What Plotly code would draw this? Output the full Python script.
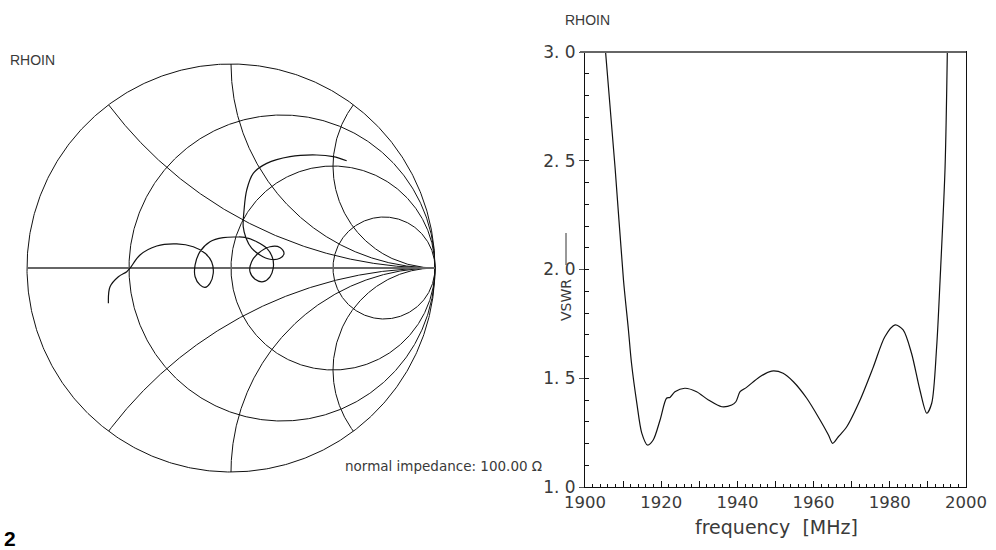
import numpy as np
import plotly.graph_objects as go

W, H = 996, 550

# ---- data ----
# Smith chart trajectory of RHOIN (reflection coefficient, real / imaginary)
rho_re = [-0.601, -0.593, -0.552, -0.511, -0.495, -0.446, -0.364, -0.266, -0.185, -0.127,
          -0.095, -0.087, -0.103, -0.127, -0.152, -0.176, -0.176, -0.152, -0.103, -0.038,
          0.028, 0.069, 0.126, 0.175, 0.204, 0.207, 0.191, 0.158, 0.118, 0.093,
          0.101, 0.134, 0.191, 0.240, 0.260, 0.240, 0.191, 0.142, 0.101, 0.074,
          0.060, 0.064, 0.077, 0.109, 0.175, 0.289, 0.420, 0.501, 0.567]
rho_im = [-0.173, -0.092, -0.043, -0.018, -0.001, 0.064, 0.108, 0.118, 0.104, 0.072,
          0.031, -0.026, -0.075, -0.095, -0.083, -0.043, 0.015, 0.080, 0.129, 0.149,
          0.152, 0.150, 0.129, 0.097, 0.048, -0.001, -0.043, -0.067, -0.055, -0.018,
          0.031, 0.072, 0.104, 0.101, 0.072, 0.048, 0.043, 0.064, 0.097, 0.146,
          0.202, 0.284, 0.382, 0.464, 0.513, 0.546, 0.554, 0.546, 0.526]

# VSWR versus frequency
freq_mhz = [1905.4, 1907.9, 1910.1, 1911.4, 1912.2, 1913.6, 1914.9, 1916.4, 1917.9, 1919.7,
            1921.4, 1922.3, 1923.6, 1926.2, 1929.3, 1932.4, 1935.9, 1938.5, 1939.6, 1940.7,
            1942.4, 1945.9, 1949.0, 1952.0, 1954.7, 1958.2, 1961.7, 1963.9, 1965.0, 1966.5,
            1968.7, 1972.2, 1975.7, 1978.7, 1981.4, 1983.5, 1985.7, 1987.9, 1989.7, 1991.0,
            1992.3, 1993.2, 1994.5, 1995.1]
vswr = [3.0, 2.467, 1.952, 1.722, 1.570, 1.386, 1.248, 1.193, 1.216, 1.308,
        1.408, 1.412, 1.438, 1.454, 1.438, 1.400, 1.369, 1.377, 1.392, 1.438,
        1.458, 1.507, 1.533, 1.523, 1.484, 1.408, 1.308, 1.239, 1.201, 1.231,
        1.277, 1.400, 1.553, 1.691, 1.745, 1.722, 1.615, 1.446, 1.339, 1.385,
        1.645, 1.952, 2.467, 3.0]

# Smith chart grid values
r_circles = [1 / 3, 1.0, 3.0]
x_arcs = [0.5, 1.0, 2.0]

# tick labels
y_tickvals = [1.0, 1.5, 2.0, 2.5, 3.0]
y_ticktext = ["1. 0", "1. 5", "2. 0", "2. 5", "3. 0"]
x_tickvals = [1900, 1910, 1920, 1930, 1940, 1950, 1960, 1970, 1980, 1990, 2000]
x_ticktext = ["1900", "", "1920", "", "1940", "", "1960", "", "1980", "", "2000"]


def px(x):
    return x / W


def py(y):
    return 1 - y / H


TXT = "#3a3a3a"
FONT = "DejaVu Sans"

fig = go.Figure()

# ---- Smith chart grid ----
t = np.linspace(0, 2 * np.pi, 721)
gx, gy = [], []
gx += list(np.cos(t)) + [None]
gy += list(np.sin(t)) + [None]
for r in r_circles:
    c, rad = r / (1 + r), 1 / (1 + r)
    gx += list(c + rad * np.cos(t)) + [None]
    gy += list(rad * np.sin(t)) + [None]
tt = np.linspace(0, 2 * np.pi, 3601)
for xv in x_arcs:
    for s in (1, -1):
        ax = 1 + (1 / xv) * np.cos(tt)
        ay = s / xv + (1 / xv) * np.sin(tt)
        m = ax ** 2 + ay ** 2 <= 1.0000001
        ax, ay = ax[m], ay[m]
        idx = np.argsort(np.arctan2(ay - s / xv, ax - 1) % (2 * np.pi))
        gx += list(ax[idx]) + [None]
        gy += list(ay[idx]) + [None]

fig.add_trace(go.Scatter(x=gx, y=gy, mode="lines", line=dict(color="#111111", width=1),
                         xaxis="x", yaxis="y", hoverinfo="skip", showlegend=False))
fig.add_trace(go.Scatter(x=[-1, 1], y=[0, 0], mode="lines", line=dict(color="#666666", width=2),
                         xaxis="x", yaxis="y", hoverinfo="skip", showlegend=False))
fig.add_trace(go.Scatter(x=rho_re, y=rho_im, mode="lines",
                         line=dict(color="#111111", width=1.2, shape="spline", smoothing=1.0),
                         xaxis="x", yaxis="y", name="RHOIN", showlegend=False))

# ---- VSWR plot ----
fig.add_trace(go.Scatter(x=freq_mhz, y=vswr, mode="lines",
                         line=dict(color="#111111", width=1.2, shape="spline", smoothing=0.8),
                         xaxis="x2", yaxis="y2", name="VSWR", showlegend=False))

cx, cy, R, pad = 231, 268, 204, 1.01
fig.update_layout(
    template="none",
    width=W, height=H, autosize=False,
    margin=dict(l=0, r=0, t=0, b=0, pad=0, autoexpand=False),
    paper_bgcolor="white", plot_bgcolor="rgba(0,0,0,0)",
    showlegend=False,
    xaxis=dict(domain=[px(cx - R * pad), px(cx + R * pad)], range=[-pad, pad],
               visible=False, fixedrange=True, automargin=False),
    yaxis=dict(domain=[py(cy + R * pad), py(cy - R * pad)], range=[-pad, pad],
               visible=False, fixedrange=True, automargin=False),
    xaxis2=dict(domain=[px(585), px(966)], range=[1900, 2000], anchor="y2", automargin=False,
                showgrid=False, zeroline=False, showline=True, linecolor="#111111",
                linewidth=1, mirror=True,
                tickmode="array", tickvals=x_tickvals, ticktext=x_ticktext,
                ticks="inside", ticklen=6, tickcolor="#111111",
                minor=dict(dtick=2, ticks="inside", ticklen=3, tickcolor="#111111", showgrid=False),
                tickfont=dict(family=FONT, size=16.5, color=TXT)),
    yaxis2=dict(domain=[py(487), py(52)], range=[1, 3], anchor="x2", automargin=False,
                showgrid=False, zeroline=False, showline=True, linecolor="#111111",
                linewidth=1, mirror=True,
                tickmode="array", tickvals=y_tickvals, ticktext=y_ticktext,
                ticks="outside", ticklen=5, tickcolor="#555555",
                minor=dict(dtick=0.1, ticks="inside", ticklen=4, tickcolor="#111111", showgrid=False),
                tickfont=dict(family=FONT, size=17, color=TXT)),
)

ann = [
    dict(text="RHOIN", x=px(8), y=py(60), xanchor="left", yanchor="middle",
         font=dict(family="Liberation Sans", size=14, color=TXT)),
    dict(text="RHOIN", x=px(563), y=py(20), xanchor="left", yanchor="middle",
         font=dict(family="Liberation Sans", size=14, color=TXT)),
    dict(text="normal impedance: 100.00 Ω", x=px(343), y=py(466), xanchor="left", yanchor="middle",
         font=dict(family=FONT, size=13.5, color=TXT)),
    dict(text="frequency  [MHz]", x=px(776), y=py(527), xanchor="center", yanchor="middle",
         font=dict(family=FONT, size=19, color=TXT)),
    dict(text="VSWR", x=px(566), y=py(300), xanchor="center", yanchor="middle", textangle=-90,
         font=dict(family=FONT, size=14, color=TXT)),
    dict(text="<b>2</b>", x=px(2), y=py(538), xanchor="left", yanchor="middle",
         font=dict(family="Liberation Sans", size=21, color="#000000")),
]
for a in ann:
    a.update(xref="paper", yref="paper", showarrow=False)
fig.update_layout(annotations=ann)

fig.add_shape(type="line", xref="paper", yref="paper",
              x0=px(566), x1=px(566), y0=py(233), y1=py(265),
              line=dict(color="#333333", width=1))
fig.add_shape(type="line", xref="paper", yref="paper",
              x0=px(580), x1=px(966), y0=py(52), y1=py(52),
              line=dict(color="#666666", width=2))

fig.write_html("out.html", config={"displayModeBar": False},
               post_script="document.body.style.margin='0';document.body.style.padding='0';")
